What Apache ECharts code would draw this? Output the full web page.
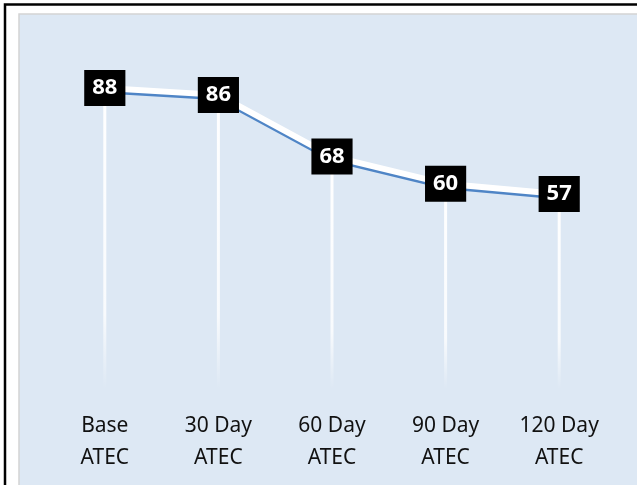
<!DOCTYPE html>
<html lang="en">
<head>
  <meta charset="UTF-8">
  <title>ATEC</title>
  <style>
    * { margin: 0; padding: 0; }
    body { background: #ffffff; }
    #main { width: 637px; height: 485px; }
  </style>
</head>
<body>
  <div id="main"></div>
  <script src="https://cdn.jsdelivr.net/npm/echarts@6/dist/echarts.min.js"></script>
  <script>
    // data
    var categories = ['Base\nATEC', '30 Day\nATEC', '60 Day\nATEC', '90 Day\nATEC', '120 Day\nATEC'];
    var scores = [88, 86, 68, 60, 57];

    var chart = echarts.init(document.getElementById('main'));

    var option = {
      backgroundColor: '#ffffff',
      animation: false,
      graphic: [
        // light blue panel
        {
          type: 'rect', z: -10,
          shape: { x: 19, y: 14, width: 640, height: 480 },
          style: { fill: '#dde8f4', stroke: '#d4d4d4', lineWidth: 1.5 }
        },
        // outer black frame (runs off the right and bottom edges)
        {
          type: 'rect', z: -5,
          shape: { x: 5, y: 4.5, width: 650, height: 500 },
          style: { fill: 'none', stroke: '#000000', lineWidth: 2.5 }
        }
      ],
      grid: { left: 48, right: 21, top: 47, height: 342 },
      xAxis: {
        type: 'category',
        data: categories,
        boundaryGap: true,
        axisLine: { show: false },
        axisTick: { show: false },
        splitLine: { show: false },
        axisLabel: {
          color: '#111111',
          fontFamily: 'Noto Sans',
          fontSize: 21,
          lineHeight: 32,
          margin: 21
        }
      },
      yAxis: {
        type: 'value',
        min: 0,
        max: 100,
        show: false
      },
      series: [
        {
          // white drop lines fading down
          type: 'bar',
          data: scores,
          barWidth: 3,
          z: 1,
          itemStyle: {
            color: new echarts.graphic.LinearGradient(0, 0, 0, 1, [
              { offset: 0, color: 'rgba(255,255,255,1)' },
              { offset: 0.75, color: 'rgba(255,255,255,0.8)' },
              { offset: 1, color: 'rgba(255,255,255,0)' }
            ])
          },
          silent: true
        },
        {
          type: 'line',
          data: scores,
          z: 3,
          symbol: 'none',
          lineStyle: {
            color: '#ffffff',
            width: 6,
            shadowColor: '#4f85c6',
            shadowOffsetY: 2.5,
            shadowBlur: 0
          }
        },
        {
          // value boxes
          type: 'scatter',
          data: scores,
          z: 5,
          symbolSize: 0,
          itemStyle: { opacity: 1 },
          label: {
            show: true,
            position: 'inside',
            backgroundColor: '#000000',
            color: '#ffffff',
            fontFamily: 'Noto Sans',
            fontWeight: 'bold',
            fontSize: 22,
            lineHeight: 25,
            padding: [6, 8, 5, 8]
          }
        }
      ]
    };

    chart.setOption(option);
  </script>
</body>
</html>
